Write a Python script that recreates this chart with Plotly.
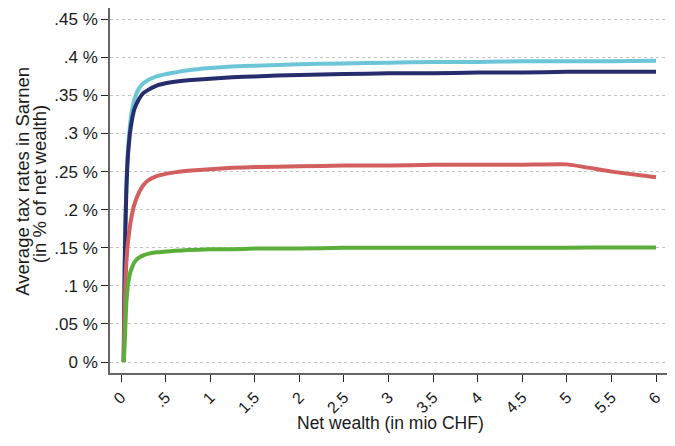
import plotly.graph_objects as go

wealth = [0.03, 0.035, 0.04, 0.045, 0.05, 0.06, 0.07, 0.08, 0.1, 0.12, 0.15, 0.2, 0.25, 0.3,
          0.4, 0.5, 0.6, 0.75, 1, 1.25, 1.5, 2, 2.5, 3, 3.5, 4, 4.5, 5, 5.5, 6]

rate_lightblue = [0, 0.065, 0.115, 0.155, 0.185, 0.232, 0.263, 0.283, 0.310, 0.328, 0.345, 0.359,
                  0.366, 0.370, 0.375, 0.378, 0.380, 0.383, 0.386, 0.388, 0.389, 0.391, 0.392,
                  0.393, 0.394, 0.394, 0.395, 0.395, 0.395, 0.3955]
rate_navy = [0, 0.060, 0.110, 0.150, 0.180, 0.225, 0.255, 0.275, 0.300, 0.316, 0.332, 0.345,
             0.353, 0.357, 0.363, 0.366, 0.368, 0.370, 0.372, 0.374, 0.375, 0.377, 0.378,
             0.379, 0.379, 0.380, 0.380, 0.381, 0.381, 0.381]
rate_red = [0, 0.035, 0.065, 0.088, 0.105, 0.130, 0.148, 0.160, 0.178, 0.192, 0.207, 0.222,
            0.232, 0.238, 0.244, 0.247, 0.249, 0.251, 0.253, 0.255, 0.256, 0.257, 0.258,
            0.258, 0.259, 0.259, 0.259, 0.2595, 0.250, 0.2425]
rate_green = [0, 0.010, 0.020, 0.035, 0.050, 0.078, 0.093, 0.103, 0.116, 0.123, 0.131, 0.137,
              0.140, 0.142, 0.144, 0.145, 0.146, 0.147, 0.148, 0.148, 0.149, 0.149, 0.150,
              0.150, 0.150, 0.150, 0.150, 0.150, 0.1505, 0.1505]

x_tickvals = [0, 0.5, 1, 1.5, 2, 2.5, 3, 3.5, 4, 4.5, 5, 5.5, 6]
x_ticktext = ["0", ".5", "1", "1.5", "2", "2.5", "3", "3.5", "4", "4.5", "5", "5.5", "6"]
y_tickvals = [0, 0.05, 0.1, 0.15, 0.2, 0.25, 0.3, 0.35, 0.4, 0.45]
y_ticktext = ["0 %", ".05 %", ".1 %", ".15 %", ".2 %", ".25 %", ".3 %", ".35 %", ".4 %", ".45 %"]

x_title = "Net wealth (in mio CHF)"
y_title_lines = ["Average tax rates in Sarnen", "(in % of net wealth)"]

series = [
    ("lightblue", rate_lightblue, "#6DC6D8"),
    ("navy", rate_navy, "#262D6E"),
    ("red", rate_red, "#D25E5E"),
    ("green", rate_green, "#5AAE3A"),
]

fig = go.Figure()
for name, ys, col in series:
    fig.add_trace(go.Scatter(x=wealth, y=ys, mode="lines", name=name,
                             line=dict(color=col, width=4, shape="spline", smoothing=0.4)))

font = "Liberation Sans, Arial, sans-serif"
txt = "#1a1a1a"
# the page body adds an 8px offset, so margins are reduced by 8 on top/left
fig.update_layout(
    width=675, height=446,
    margin=dict(l=102, r=15, t=0, b=81, autoexpand=False),
    paper_bgcolor="white", plot_bgcolor="white",
    showlegend=False,
    font=dict(family=font, size=17, color=txt),
)
fig.update_xaxes(
    range=[-0.1234, 6.1346], tickvals=x_tickvals, ticktext=x_ticktext, tickangle=-45,
    showline=True, linecolor="#666", linewidth=1.5, ticks="outside", ticklen=7,
    tickcolor="#222", tickwidth=1.3, showgrid=False, zeroline=False, automargin=False,
    tickfont=dict(size=16, family=font, color=txt),
)
fig.update_yaxes(
    range=[-0.0144, 0.4648], tickvals=y_tickvals, ticktext=y_ticktext,
    showline=True, linecolor="#666", linewidth=1.5, ticks="outside", ticklen=7,
    tickcolor="#222", tickwidth=1.3, showgrid=True, gridcolor="#c4c4c4", griddash="dot",
    gridwidth=1.2, zeroline=False, automargin=False,
    tickfont=dict(size=17, family=font, color=txt),
)

fig.add_annotation(text=x_title, xref="paper", yref="paper", x=0.5018, y=-0.138,
                   xanchor="center", yanchor="middle", showarrow=False,
                   font=dict(size=17.5, family=font, color=txt))
fig.add_annotation(text=y_title_lines[0], xref="paper", yref="paper", x=-0.1580, y=0.526,
                   xanchor="center", yanchor="middle", showarrow=False, textangle=-90,
                   font=dict(size=18.5, family=font, color=txt))
fig.add_annotation(text=y_title_lines[1], xref="paper", yref="paper", x=-0.1250, y=0.518,
                   xanchor="center", yanchor="middle", showarrow=False, textangle=-90,
                   font=dict(size=18.5, family=font, color=txt))
fig.write_html("out.html")
